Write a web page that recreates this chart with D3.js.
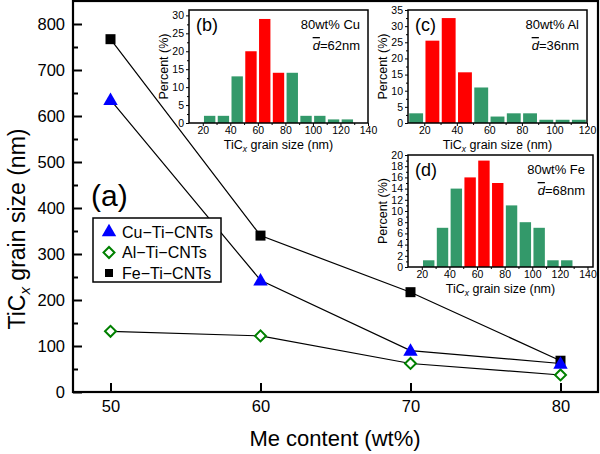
<!DOCTYPE html>
<html><head><meta charset="utf-8">
<script src="https://cdn.jsdelivr.net/npm/d3@7"></script>
<style>body{margin:0;background:#fff}svg{display:block;font-family:"Liberation Sans",Arial,sans-serif}</style>
</head><body>
<svg id="c" width="600" height="454"></svg>
<script>
// ---- main chart data ----
const meContent = [50, 60, 70, 80];
const cuSize = [635, 243, 90, 62];
const alSize = [132, 122, 62, 37];
const feSize = [767, 340, 217, 68];
const mainYTicks = [0, 100, 200, 300, 400, 500, 600, 700, 800];
const mainXTicks = [50, 60, 70, 80];

// ---- inset histograms (bin centres, percent) ----
const binsB = [25, 35, 45, 55, 65, 75, 85, 95, 105, 115, 125];
const pctB  = [2, 2, 13, 20, 29, 14, 14, 2, 2, 1, 1];
const redB  = [55, 65, 75];
const binsC = [15, 25, 35, 45, 55, 65, 75, 85, 95, 105, 115];
const pctC  = [3, 25.5, 32.5, 15.7, 11, 2, 3, 3, 1, 1, 1];
const redC  = [25, 35, 45];
const binsD = [25, 35, 45, 55, 65, 75, 85, 95, 105, 115, 125];
const pctD  = [1.2, 7, 14, 16, 19, 15, 11, 8, 7, 1.2, 1.2];
const redD  = [55, 65, 75];

const svg = d3.select("#c");
const GREEN = "#33996a", RED = "#ff0000";

// ---- main axes ----
const L = 73, R = 598, T = 1, B = 392;
const x = d3.scaleLinear().domain([47.5, 82.5]).range([L, R]);
const y = d3.scaleLinear().domain([0, 850]).range([B, T]);

const gx = svg.append("g").attr("transform", `translate(0,${B})`)
  .call(d3.axisBottom(x).tickValues(mainXTicks).tickSize(-9).tickPadding(8).tickFormat(d3.format("d")));
const gy = svg.append("g").attr("transform", `translate(${L},0)`)
  .call(d3.axisLeft(y).tickValues(mainYTicks).tickSize(-9).tickPadding(8).tickFormat(d3.format("d")));
const gym = svg.append("g").attr("transform", `translate(${L},0)`)
  .call(d3.axisLeft(y).tickValues(d3.range(50, 850, 100)).tickSize(-5).tickFormat(""));
[gx, gy, gym].forEach(g => {
  g.select(".domain").remove();
  g.selectAll("line").attr("stroke", "#000").attr("stroke-width", 2);
  g.selectAll("text").attr("font-size", 16.5).attr("fill", "#000");
});
svg.append("rect").attr("x", L).attr("y", T).attr("width", R - L).attr("height", B - T)
  .attr("fill", "none").attr("stroke", "#000").attr("stroke-width", 2.2);

// axis titles
const yt = svg.append("text").attr("transform", "translate(25,229) rotate(-90)")
  .attr("text-anchor", "middle").attr("font-size", 23).attr("fill", "#000");
yt.append("tspan").text("TiC");
yt.append("tspan").text("x").attr("font-style", "italic").attr("font-size", 15).attr("dy", 5);
yt.append("tspan").text(" grain size (nm)").attr("dy", -5);
svg.append("text").attr("x", 335).attr("y", 446).attr("text-anchor", "middle")
  .attr("font-size", 22).attr("fill", "#000").text("Me content (wt%)");
svg.append("text").attr("x", 91).attr("y", 206).attr("font-size", 30).attr("fill", "#000").text("(a)");

// ---- insets ----
function inset(o) {
  const g = svg.append("g");
  const ix = d3.scaleLinear().domain(o.xd).range([o.l, o.r]);
  const iy = d3.scaleLinear().domain(o.yd).range([o.b, o.t]);
  g.append("rect").attr("x", o.l).attr("y", o.t).attr("width", o.r - o.l).attr("height", o.b - o.t).attr("fill", "#fff");
  g.selectAll(".bar").data(o.bins).join("rect")
    .attr("x", (d) => ix(d - 5) + 1.2)
    .attr("width", (d) => ix(d + 5) - ix(d - 5) - 2.4)
    .attr("y", (d, i) => iy(o.pct[i]))
    .attr("height", (d, i) => iy(0) - iy(o.pct[i]))
    .attr("fill", (d) => o.red.includes(d) ? RED : GREEN);
  const ax = g.append("g").attr("transform", `translate(0,${o.b})`)
    .call(d3.axisBottom(ix).tickValues(o.xt).tickSize(3).tickPadding(1));
  const axm = g.append("g").attr("transform", `translate(0,${o.b})`)
    .call(d3.axisBottom(ix).tickValues(o.xt.map(v => v - 10).filter(v => v > o.xd[0])).tickSize(2).tickFormat(""));
  const ay = g.append("g").attr("transform", `translate(${o.l},0)`)
    .call(d3.axisLeft(iy).tickValues(o.yt).tickSize(3).tickPadding(2));
  const aym = g.append("g").attr("transform", `translate(${o.l},0)`)
    .call(d3.axisLeft(iy).tickValues(o.yt.slice(0, -1).map(v => v + o.ystep / 2)).tickSize(2).tickFormat(""));
  [ax, axm, ay, aym].forEach(a => {
    a.select(".domain").remove();
    a.selectAll("line").attr("stroke", "#000").attr("stroke-width", 1);
    a.selectAll("text").attr("font-size", 10.5).attr("fill", "#000");
  });
  g.append("rect").attr("x", o.l).attr("y", o.t).attr("width", o.r - o.l).attr("height", o.b - o.t)
    .attr("fill", "none").attr("stroke", "#000").attr("stroke-width", 1.5);
  g.append("text").attr("transform", `translate(${o.l - 21},${(o.t + o.b) / 2}) rotate(-90)`)
    .attr("text-anchor", "middle").attr("font-size", 12.5).attr("fill", "#000").text("Percent (%)");
  const xt = g.append("text").attr("x", (o.l + o.r) / 2).attr("y", o.b + 25.5)
    .attr("text-anchor", "middle").attr("font-size", 12.5).attr("fill", "#000");
  xt.append("tspan").text("TiC");
  xt.append("tspan").text("x").attr("font-style", "italic").attr("font-size", 8.5).attr("dy", 3);
  xt.append("tspan").text(" grain size (nm)").attr("dy", -3);
  g.append("text").attr("x", o.l + 7).attr("y", o.t + 21).attr("font-size", 18).attr("fill", "#000").text(o.tag);
  g.append("text").attr("x", o.r - 8).attr("y", o.t + 19).attr("text-anchor", "end")
    .attr("font-size", 13).attr("fill", "#000").text(o.label);
  const dt = g.append("text").attr("x", o.r - 8).attr("y", o.t + 40).attr("text-anchor", "end")
    .attr("font-size", 13).attr("fill", "#000");
  dt.append("tspan").text("d").attr("font-style", "italic").style("text-decoration", "overline");
  dt.append("tspan").text("=" + o.mean);
}
inset({l: 189, r: 368, t: 10, b: 123, xd: [10, 140], yd: [0, 31.5], bins: binsB, pct: pctB, red: redB,
  xt: [20, 40, 60, 80, 100, 120, 140], yt: [0, 5, 10, 15, 20, 25, 30], ystep: 5, tag: "(b)", label: "80wt% Cu", mean: "62nm"});
inset({l: 408, r: 587, t: 10, b: 123, xd: [10, 120], yd: [0, 35], bins: binsC, pct: pctC, red: redC,
  xt: [20, 40, 60, 80, 100, 120], yt: [0, 5, 10, 15, 20, 25, 30, 35], ystep: 5, tag: "(c)", label: "80wt% Al", mean: "36nm"});
inset({l: 408, r: 593, t: 155, b: 267, xd: [10, 144], yd: [0, 20], bins: binsD, pct: pctD, red: redD,
  xt: [20, 40, 60, 80, 100, 120, 140], yt: [0, 2, 4, 6, 8, 10, 12, 14, 16, 18, 20], ystep: 2, tag: "(d)", label: "80wt% Fe", mean: "68nm"});

// ---- series lines and markers ----
const line = d3.line().x((d, i) => x(meContent[i])).y(d => y(d));
[alSize, cuSize, feSize].forEach(s => {
  svg.append("path").attr("d", line(s)).attr("fill", "none").attr("stroke", "#000").attr("stroke-width", 1.2);
});
const tri = d3.symbol().type(d3.symbolTriangle).size(90);
const sq = d3.symbol().type(d3.symbolSquare).size(100);
const dia = d3.symbol().type(d3.symbolSquare).size(60);
svg.selectAll(".al").data(alSize).join("path").attr("d", dia)
  .attr("transform", (d, i) => `translate(${x(meContent[i])},${y(d)}) rotate(45)`)
  .attr("fill", "#fff").attr("stroke", "#008000").attr("stroke-width", 2);
svg.selectAll(".fe").data(feSize).join("path").attr("d", sq)
  .attr("transform", (d, i) => `translate(${x(meContent[i])},${y(d)})`).attr("fill", "#000");
svg.selectAll(".cu").data(cuSize).join("path").attr("d", tri)
  .attr("transform", (d, i) => `translate(${x(meContent[i])},${y(d) + 1})`).attr("fill", "#0000ff");

// ---- legend ----
const lg = svg.append("g");
lg.append("rect").attr("x", 93).attr("y", 218).attr("width", 128).attr("height", 64)
  .attr("fill", "#fff").attr("stroke", "#000").attr("stroke-width", 1.5);
const legItems = ["Cu\u2212Ti\u2212CNTs", "Al\u2212Ti\u2212CNTs", "Fe\u2212Ti\u2212CNTs"];
const legSyms = [
  s => s.attr("d", tri).attr("fill", "#0000ff"),
  s => s.attr("d", dia).attr("fill", "#fff").attr("stroke", "#008000").attr("stroke-width", 2),
  s => s.attr("d", d3.symbol().type(d3.symbolSquare).size(64)).attr("fill", "#000")
];
legItems.forEach((t, i) => {
  const yy = 232 + i * 20.5;
  legSyms[i](lg.append("path").attr("transform", `translate(109,${yy})` + (i === 1 ? " rotate(45)" : "")));
  lg.append("text").attr("x", 122).attr("y", yy + 5.5).attr("font-size", 16).attr("fill", "#000").text(t);
});
</script>
</body></html>
